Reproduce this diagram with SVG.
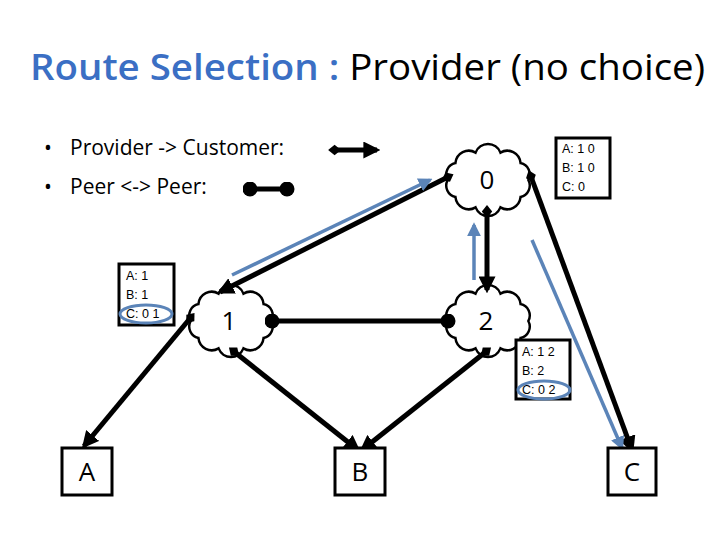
<svg xmlns="http://www.w3.org/2000/svg" width="720" height="540" viewBox="0 0 720 540">
<style>
text{font-family:"Open Sans","Liberation Sans",sans-serif;fill:#000}
.e{stroke:#000;stroke-width:5;fill:none}
.b{stroke:#5b84b8;stroke-width:3.5;fill:none}
.box{fill:#fff;stroke:#000;stroke-width:3}
.bt{font-family:"Liberation Sans",sans-serif;font-size:12.5px}
.cl{fill:#fff;stroke:#000;stroke-width:2.2}
.nl{font-size:26px}
.ov{fill:none;stroke:#5b84b8;stroke-width:3}
</style>
<defs>
<marker id="ah" viewBox="0 0 10 10" refX="8" refY="5" markerWidth="3.4" markerHeight="3.4" orient="auto"><path d="M0,0L10,5L0,10z" fill="#000"/></marker>
<marker id="dm" viewBox="0 0 10 10" refX="3" refY="5" markerWidth="2.6" markerHeight="2.6" orient="auto"><path d="M0,5L5,1L10,5L5,9z" fill="#000"/></marker>
<marker id="dt" viewBox="0 0 10 10" refX="5" refY="5" markerWidth="3" markerHeight="3"><circle cx="5" cy="5" r="5" fill="#000"/></marker>
<marker id="bh" viewBox="0 0 10 10" refX="8" refY="5" markerWidth="4" markerHeight="4" orient="auto"><path d="M0,0L10,5L0,10z" fill="#5b84b8"/></marker>
<path id="cloud" d="M36,0 A10,10 0 0 1 29.1,14.7 A12,12 0 0 1 11.1,23.8 A12,12 0 0 1 -11.1,23.8 A12,12 0 0 1 -29.1,14.7 A10,10 0 0 1 -36,0 A10,10 0 0 1 -29.1,-14.7 A12,12 0 0 1 -11.1,-23.8 A12,12 0 0 1 11.1,-23.8 A12,12 0 0 1 29.1,-14.7 A10,10 0 0 1 36,0z"/>
</defs>
<rect width="720" height="540" fill="#fff"/>
<text x="30" y="80" font-size="36" textLength="675" lengthAdjust="spacingAndGlyphs"><tspan fill="#3b6fc4" font-weight="600">Route Selection : </tspan>Provider (no choice)</text>
<g id="legend">
<text x="44" y="155" font-size="21">•</text><text x="70" y="155" font-size="21">Provider -&gt; Customer:</text>
<text x="44" y="194" font-size="21">•</text><text x="70" y="194" font-size="21">Peer &lt;-&gt; Peer:</text>
<line class="e" x1="332" y1="150" x2="377" y2="150" marker-start="url(#dm)" marker-end="url(#ah)"/>
<line class="e" x1="250" y1="189" x2="287" y2="189" marker-start="url(#dt)" marker-end="url(#dt)"/>
</g>
<g id="n0"><use href="#cloud" class="cl" transform="translate(488,180) scale(1.12,1.15)"/><text class="nl" x="487" y="189" text-anchor="middle">0</text></g>
<g id="n1"><use href="#cloud" class="cl" transform="translate(231,321) scale(1.12,1.15)"/><text class="nl" x="229" y="330" text-anchor="middle">1</text></g>
<g id="n2"><use href="#cloud" class="cl" transform="translate(488,321) scale(1.12,1.15)"/><text class="nl" x="486" y="330" text-anchor="middle">2</text></g>
<g id="connectors">
<line class="e" x1="450" y1="176" x2="220" y2="292" marker-start="url(#dm)" marker-end="url(#ah)"/>
<line class="e" x1="487" y1="209" x2="487" y2="290" marker-start="url(#dm)" marker-end="url(#ah)"/>
<line class="e" x1="530" y1="174" x2="632" y2="450" marker-start="url(#dm)" marker-end="url(#ah)"/>
<line class="e" x1="192" y1="316" x2="84" y2="446" marker-start="url(#dm)" marker-end="url(#ah)"/>
<line class="e" x1="232" y1="350" x2="358" y2="450" marker-start="url(#dm)" marker-end="url(#ah)"/>
<line class="e" x1="488" y1="350" x2="362" y2="450" marker-start="url(#dm)" marker-end="url(#ah)"/>
<line class="e" x1="272" y1="321" x2="448" y2="321" marker-start="url(#dt)" marker-end="url(#dt)"/>
<line class="b" x1="232" y1="275" x2="430" y2="180" marker-end="url(#bh)"/>
<line class="b" x1="474" y1="280" x2="474" y2="225" marker-end="url(#bh)"/>
<line class="b" x1="532" y1="240" x2="622" y2="448" marker-end="url(#bh)"/>
</g>
<g id="t0"><rect class="box" x="556" y="138" width="54" height="60"/><text class="bt" x="562" y="153">A: 1 0</text><text class="bt" x="562" y="172">B: 1 0</text><text class="bt" x="562" y="191">C: 0</text></g>
<g id="t1"><rect class="box" x="119" y="264" width="55" height="61"/><text class="bt" x="126" y="280">A: 1</text><text class="bt" x="126" y="299">B: 1</text><text class="bt" x="126" y="318">C: 0 1</text><ellipse class="ov" cx="146" cy="314" rx="26" ry="9"/></g>
<g id="t2"><rect class="box" x="516" y="340" width="54" height="59"/><text class="bt" x="522" y="356">A: 1 2</text><text class="bt" x="522" y="375">B: 2</text><text class="bt" x="522" y="394">C: 0 2</text><ellipse class="ov" cx="544" cy="390" rx="26" ry="9"/></g>
<g id="A"><rect class="box" x="62" y="448" width="50" height="47"/><text x="87" y="481" font-size="26" text-anchor="middle">A</text></g>
<g id="B"><rect class="box" x="335" y="448" width="50" height="47"/><text x="360" y="481" font-size="26" text-anchor="middle">B</text></g>
<g id="C"><rect class="box" x="608" y="448" width="48" height="47"/><text x="632" y="481" font-size="26" text-anchor="middle">C</text></g>
</svg>
